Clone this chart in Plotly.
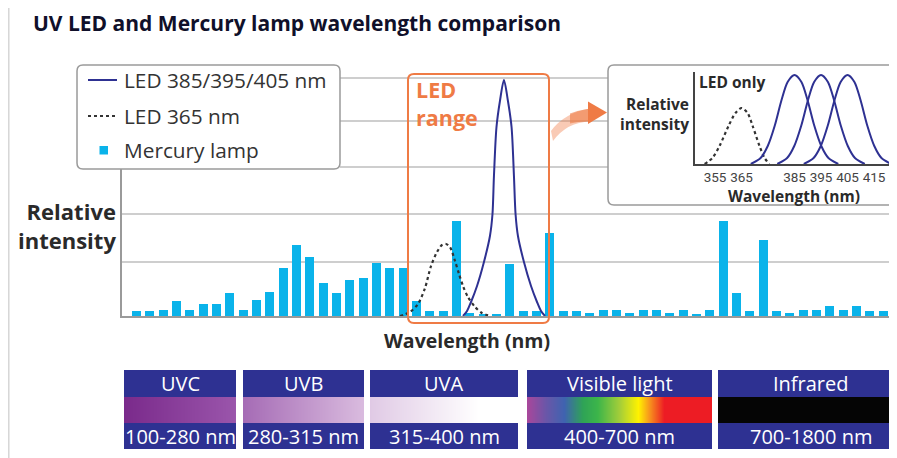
import plotly.graph_objects as go

# page body has an 8px margin: draw in reference pixels shifted by that margin
OFF = 8
W, H = 889, 450

# ---------------- data ----------------
# Mercury lamp emission lines (schematic positions along the main axis)
hg_line_index = list(range(58))
hg_intensity = [5, 5, 6, 15, 6, 12, 12, 23, 6, 16,
                24, 48, 71, 59, 33, 23, 36, 38, 53, 48,
                48, 15, 5, 5, 95, 3, 2, 2, 52, 5,
                5, 83, 5, 5, 3, 6, 6, 3, 6, 6,
                3, 6, 2, 6, 95, 23, 5, 76, 5, 3,
                6, 6, 10, 6, 10, 5, 5, 3]

# LED 385/395/405 nm curve on the main axis
led_main_x = [24.49, 24.79, 25.09, 25.54, 26.06, 26.51, 26.70, 26.81, 27.00, 27.26, 27.56,
              27.86, 28.13, 28.31, 28.43, 28.61, 29.06, 29.59, 30.04, 30.34, 30.64]
led_main_y = [0, 5, 14, 30, 54, 80, 102, 140, 189, 215, 236,
              215, 189, 140, 102, 80, 54, 30, 14, 5, 0]

# LED 365 nm curve on the main axis
led365_main_x = [19.76, 20.51, 21.11, 21.64, 22.09, 22.54, 22.91, 23.21, 23.51, 23.89,
                 24.19, 24.49, 24.86, 25.39, 25.91, 26.51]
led365_main_y = [0, 4, 12, 28, 50, 64, 71, 72, 69, 55, 42, 30, 19, 9, 3, 0]

grid_levels = [54, 102, 149, 195, 238]

# Inset "LED only" (wavelength in nm)
inset_365_x = [351.1, 354.0, 356.7, 360.1, 362.7, 365.0, 367.3, 369.2, 371.8, 373.7, 375.5]
inset_365_y = [0, 6, 18, 38, 51, 56, 51, 38, 18, 6, 0]
inset_385_x = [368.5, 372.2, 374.9, 377.5, 380.1, 382.4, 385.0, 387.6, 389.9, 392.5, 395.1, 397.8, 401.5]
inset_395_x = [378.5, 382.2, 384.9, 387.5, 390.1, 392.4, 395.0, 397.6, 399.9, 402.5, 405.1, 407.8, 411.5]
inset_405_x = [388.5, 392.2, 394.9, 397.5, 400.1, 402.4, 405.0, 407.6, 409.9, 412.5, 415.1, 417.8, 421.5]
inset_blue_y = [0, 6, 18, 38, 64, 82, 89, 82, 64, 38, 18, 6, 0]
inset_ticks = [355, 365, 385, 395, 405, 415]

# Spectrum bands
band_names = ["UVC", "UVB", "UVA", "Visible light", "Infrared"]
band_ranges = ["100-280 nm", "280-315 nm", "315-400 nm", "400-700 nm", "700-1800 nm"]

# ---------------- layout geometry (reference pixels) ----------------
band_px = [(124, 236), (243, 364), (370, 518), (527, 712), (718, 905)]
band_top, band_strip_top, band_strip_bot, band_bot = 370, 397, 423, 449

NAVY = "#2E3192"
CYAN = "#0AB3EA"
ORANGE = "#EF7B45"
GRID = "#BEBEBE"
AXIS = "#9A9A9A"
TXT = "#2A2A2A"
FONT = "Open Sans"


def X(px):
    return (px - OFF) / W


def Y(py):
    return 1 - (py - OFF) / H


def pt(x, y):
    return f"{X(x):.5f},{Y(y):.5f}"


def rrect(x0, y0, x1, y1, r):
    return ("M " + pt(x0 + r, y0) + " L " + pt(x1 - r, y0) + " Q " + pt(x1, y0) + " " + pt(x1, y0 + r) +
            " L " + pt(x1, y1 - r) + " Q " + pt(x1, y1) + " " + pt(x1 - r, y1) +
            " L " + pt(x0 + r, y1) + " Q " + pt(x0, y1) + " " + pt(x0, y1 - r) +
            " L " + pt(x0, y0 + r) + " Q " + pt(x0, y0) + " " + pt(x0 + r, y0) + " Z")


fig = go.Figure()

# Mercury lamp bars
fig.add_trace(go.Bar(x=hg_line_index, y=hg_intensity, width=0.675, marker=dict(color=CYAN, line=dict(width=0)),
                     name="Mercury lamp", showlegend=False, hoverinfo="skip", xaxis="x", yaxis="y"))
# LED 365 dotted
fig.add_trace(go.Scatter(x=led365_main_x, y=led365_main_y, mode="lines",
                         line=dict(color="#333333", width=2.2, dash="dot", shape="spline", smoothing=0.8),
                         name="LED 365 nm", showlegend=False, hoverinfo="skip", xaxis="x", yaxis="y"))
# LED 385/395/405
fig.add_trace(go.Scatter(x=led_main_x, y=led_main_y, mode="lines",
                         line=dict(color=NAVY, width=2, shape="spline", smoothing=0.8),
                         name="LED 385/395/405 nm", showlegend=False, hoverinfo="skip", xaxis="x", yaxis="y"))

# Inset curves
fig.add_trace(go.Scatter(x=inset_365_x, y=inset_365_y, mode="lines",
                         line=dict(color="#333333", width=2.2, dash="dot", shape="spline", smoothing=0.8),
                         showlegend=False, hoverinfo="skip", xaxis="x2", yaxis="y2"))
for xs in (inset_385_x, inset_395_x, inset_405_x):
    fig.add_trace(go.Scatter(x=xs, y=inset_blue_y, mode="lines",
                             line=dict(color=NAVY, width=2, shape="spline", smoothing=0.8),
                             showlegend=False, hoverinfo="skip", xaxis="x2", yaxis="y2"))

# Gradient strips (UV and visible)
uv_scale = [[0.0, "#7A2A8B"], [0.28, "#9A55AB"], [0.30, "#A56BB5"], [0.61, "#DABCDF"],
            [0.625, "#E0CAE5"], [0.9, "#FFFFFF"], [1.0, "#FFFFFF"]]
vis_scale = [[0.0, "#A8479B"], [0.1, "#6A56A8"], [0.2, "#3F63B0"], [0.3, "#2FA356"], [0.38, "#3CB54A"],
             [0.5, "#A5CE39"], [0.6, "#FFF200"], [0.66, "#F7941D"], [0.74, "#ED1C24"], [1.0, "#ED1C24"]]
fig.add_trace(go.Heatmap(z=[[0, 1], [0, 1]], x=[0, 1], y=[0, 1], zmin=0, zmax=1, colorscale=uv_scale,
                         zsmooth="best", showscale=False, hoverinfo="skip", xaxis="x3", yaxis="y3"))
fig.add_trace(go.Heatmap(z=[[0, 1], [0, 1]], x=[0, 1], y=[0, 1], zmin=0, zmax=1, colorscale=vis_scale,
                         zsmooth="best", showscale=False, hoverinfo="skip", xaxis="x4", yaxis="y4"))

shapes = []
# outer frame (left edge visible)
shapes.append(dict(type="line", xref="paper", yref="paper", x0=X(8.8), x1=X(8.8), y0=Y(0), y1=Y(470),
                   line=dict(color="#D6D6D6", width=1.5), layer="below"))
# gridlines (behind traces)
for g in grid_levels:
    if g > 140:
        x0, x1 = 340, 608
    else:
        x0, x1 = 122, 897
    shapes.append(dict(type="line", xref="paper", yref="y", x0=X(x0), x1=X(x1), y0=g, y1=g,
                       line=dict(color=GRID, width=1.5), layer="below"))
# inset box (below traces)
shapes.append(dict(type="path", xref="paper", yref="paper", path=rrect(608, 65, 895.5, 205, 6),
                   line=dict(color=AXIS, width=1.5), fillcolor="white", layer="below"))
# legend box
shapes.append(dict(type="path", xref="paper", yref="paper", path=rrect(77, 65, 340, 169, 6),
                   line=dict(color=AXIS, width=1.5), fillcolor="white", layer="above"))
shapes.append(dict(type="line", xref="paper", yref="paper", x0=X(88), x1=X(117), y0=Y(80), y1=Y(80),
                   line=dict(color=NAVY, width=2), layer="above"))
shapes.append(dict(type="line", xref="paper", yref="paper", x0=X(88), x1=X(117), y0=Y(116), y1=Y(116),
                   line=dict(color="#333333", width=2, dash="dot"), layer="above"))
shapes.append(dict(type="rect", xref="paper", yref="paper", x0=X(99.5), x1=X(108), y0=Y(146), y1=Y(154.5),
                   line=dict(width=0), fillcolor=CYAN, layer="above"))
# LED range box
shapes.append(dict(type="path", xref="paper", yref="paper", path=rrect(408, 74, 549, 323, 6),
                   line=dict(color=ORANGE, width=2), layer="above"))
# orange arrow
shapes.append(dict(type="path", xref="paper", yref="paper",
                   path="M " + pt(551, 131) + " Q " + pt(564, 113) + " " + pt(590, 108.5) + " L " + pt(590, 121.5) +
                        " Q " + pt(567, 122) + " " + pt(553, 141) + " Z",
                   line=dict(width=0), fillcolor=ORANGE, opacity=0.4, layer="above"))
shapes.append(dict(type="path", xref="paper", yref="paper",
                   path="M " + pt(570, 113.5) + " Q " + pt(580, 110) + " " + pt(590, 108.5) + " L " + pt(590, 121.5) +
                        " Q " + pt(580, 121) + " " + pt(570, 123.5) + " Z",
                   line=dict(width=0), fillcolor=ORANGE, opacity=0.6, layer="above"))
shapes.append(dict(type="path", xref="paper", yref="paper",
                   path="M " + pt(588, 101.5) + " L " + pt(607, 112.5) + " L " + pt(588, 124) + " Z",
                   line=dict(width=0), fillcolor=ORANGE, layer="above"))
# spectrum band boxes
for (bx0, bx1) in band_px:
    shapes.append(dict(type="rect", xref="paper", yref="paper", x0=X(bx0), x1=X(bx1), y0=Y(band_top), y1=Y(band_strip_top),
                       line=dict(width=0), fillcolor=NAVY, layer="above"))
    shapes.append(dict(type="rect", xref="paper", yref="paper", x0=X(bx0), x1=X(bx1), y0=Y(band_strip_bot), y1=Y(band_bot),
                       line=dict(width=0), fillcolor=NAVY, layer="above"))
for gx0, gx1 in ((236, 243), (364, 370)):
    shapes.append(dict(type="rect", xref="paper", yref="paper", x0=X(gx0), x1=X(gx1), y0=Y(band_strip_top), y1=Y(band_strip_bot),
                       line=dict(width=0), fillcolor="white", layer="above"))
shapes.append(dict(type="rect", xref="paper", yref="paper", x0=X(718), x1=X(905), y0=Y(band_strip_top), y1=Y(band_strip_bot),
                   line=dict(width=0), fillcolor="#050505", layer="above"))

annotations = []


def ann(text, x, y, size, color=TXT, xanchor="center", family=FONT, align="center", pad=1):
    annotations.append(dict(text=text, xref="paper", yref="paper", x=X(x), y=Y(y), xanchor=xanchor, yanchor="middle",
                            showarrow=False, align=align, borderpad=pad,
                            font=dict(family=family, size=size, color=color)))


# title anchored to the top edge of the figure
annotations.append(dict(text="<b>UV LED and Mercury lamp wavelength comparison</b>", xref="paper", yref="paper",
                        x=X(32), y=1.0, xanchor="left", yanchor="top", showarrow=False, borderpad=0,
                        font=dict(family=FONT, size=21, color="#10102A")))
ann("<b>Relative<br>intensity</b>", 118, 225, 22, xanchor="right", align="right")
ann("<b>Wavelength (nm)</b>", 467, 340, 19.5)
ann("LED 385/395/405 nm", 122, 80, 20.8, color="#333333", xanchor="left")
ann("LED 365 nm", 122, 116, 20.8, color="#333333", xanchor="left")
ann("Mercury lamp", 122, 150, 20.8, color="#333333", xanchor="left")
ann("<b>LED<br>range</b>", 415, 103, 21.5, color=ORANGE, xanchor="left", align="left", pad=0)
ann("<b>Relative<br>intensity</b>", 690, 114, 15.5, xanchor="right", align="right", pad=0)
ann("<b>LED only</b>", 697, 82, 15.5, xanchor="left")
ann("<b>Wavelength (nm)</b>", 794, 195.5, 15.5, pad=0)
for name, rng, (bx0, bx1) in zip(band_names, band_ranges, band_px):
    cx = (bx0 + bx1) / 2 if bx1 < 900 else 811
    ann(name, cx, (band_top + band_strip_top) / 2, 20, color="white")
    ann(rng, cx, (band_strip_bot + band_bot) / 2, 20, color="white")

hidden = dict(visible=False, showgrid=False, zeroline=False, fixedrange=True)

fig.update_layout(
    width=W, height=H, autosize=False,
    margin=dict(l=0, r=0, t=0, b=0, pad=0),
    paper_bgcolor="white", plot_bgcolor="rgba(0,0,0,0)",
    showlegend=False, bargap=0,
    xaxis=dict(domain=[X(122), 1.0], range=[-1.088, 57.04], showline=True, linecolor=AXIS, linewidth=2,
               showgrid=False, zeroline=False, showticklabels=False, ticks="", fixedrange=True),
    yaxis=dict(domain=[Y(316), Y(66)], range=[0, 250], showline=True, linecolor=AXIS, linewidth=2,
               showgrid=False, zeroline=False, showticklabels=False, ticks="", fixedrange=True),
    xaxis2=dict(domain=[X(695), X(891)], range=[347.45, 421.4], anchor="y2", showline=True, linecolor="#444444",
                linewidth=1.5, showgrid=False, zeroline=False, tickvals=inset_ticks, tickangle=0,
                ticktext=[str(t) for t in inset_ticks], ticks="",
                tickfont=dict(family="Roboto", size=13.5, color="#444444"), fixedrange=True),
    yaxis2=dict(domain=[Y(164), Y(72)], range=[0, 92], anchor="x2", showline=True, linecolor="#444444",
                linewidth=1.5, showgrid=False, zeroline=False, showticklabels=False, ticks="", fixedrange=True),
    xaxis3=dict(domain=[X(124), X(518)], range=[0, 1], anchor="y3", **hidden),
    yaxis3=dict(domain=[Y(band_strip_bot), Y(band_strip_top)], range=[0, 1], anchor="x3", **hidden),
    xaxis4=dict(domain=[X(527), X(712)], range=[0, 1], anchor="y4", **hidden),
    yaxis4=dict(domain=[Y(band_strip_bot), Y(band_strip_top)], range=[0, 1], anchor="x4", **hidden),
    shapes=shapes,
    annotations=annotations,
)

fig.write_html("out.html")
